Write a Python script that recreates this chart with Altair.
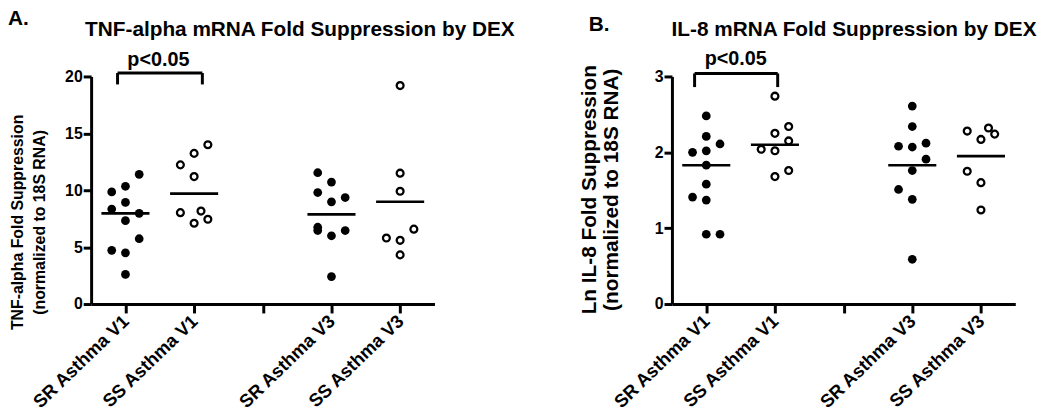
import json
import altair as alt
import pandas as pd

FONT = "Liberation Sans"

# x categories (slot 3 is an empty gap between visits)
CATS = ["SR Asthma V1", "SS Asthma V1", "", "SR Asthma V3", "SS Asthma V3"]

# ---------------- Panel A: TNF-alpha ----------------
A_SR_V1 = [11.4, 10.35, 9.85, 8.93, 8.35, 7.97, 7.33, 5.74, 4.72, 4.5, 2.6]
A_SR_V1_SLOT = [1, 0, -1, 0, -1, 1, 0, 1, -1, 0, 0]
A_SS_V1 = [14.0, 13.24, 12.23, 11.2, 8.03, 8.17, 7.45, 7.1]
A_SS_V1_SLOT = [1, 0, -1, 0, -1, 0.5, 1, 0]
A_SR_V3 = [11.54, 10.72, 9.8, 9.36, 8.98, 6.75, 6.46, 6.46, 6.0, 2.41]
A_SR_V3_SLOT = [-1, 0, -1, 1, 0, -1, -1, 1, 0, 0]
A_SS_V3 = [19.2, 11.5, 9.91, 6.58, 5.8, 5.6, 4.32]
A_SS_V3_SLOT = [0, 0, 0, 1, -1, 0, 0]
A_CENTER = [7.97, 9.7, 7.88, 8.99]

# ---------------- Panel B: IL-8 ----------------
B_SR_V1 = [2.48, 2.21, 2.11, 2.0, 2.02, 1.83, 1.58, 1.41, 1.37, 0.92, 0.92]
B_SR_V1_SLOT = [0, 0, 1, -1, 0, 0, 0, -1, 0, 0, 1]
B_SS_V1 = [2.74, 2.34, 2.25, 2.15, 2.04, 2.02, 1.76, 1.68]
B_SS_V1_SLOT = [0, 1, 0, 1, -1, 0, 1, 0]
B_SR_V3 = [2.61, 2.34, 2.08, 2.07, 2.12, 1.91, 1.76, 1.51, 1.38, 0.59]
B_SR_V3_SLOT = [0, 0, -1, 0, 1, 1, 0, -1, 0, 0]
B_SS_V3 = [2.28, 2.32, 2.24, 2.17, 1.75, 1.6, 1.24]
B_SS_V3_SLOT = [-1, 0.55, 1, 0, -1, 0, 0]
B_CENTER = [1.83, 2.1, 1.83, 1.95]

GROUP_POS = [1, 2, 4, 5]
GROUP_FILLED = [True, False, True, False]

# significance brackets: [x_left, x_right, y_top, y_bottom], label position [x, y]
A_BRACKET = [0.885, 2.12, 20.3, 19.3]
A_PLABEL = [1.48, 20.9]
B_BRACKET = [0.83, 2.04, 3.04, 2.86]
B_PLABEL = [1.43, 3.15]
P_TEXT = "p<0.05"

JIT = 0.2
HALF = 0.35


def points_df(groups, slots):
    rows = []
    for g, (vals, sl) in enumerate(zip(groups, slots)):
        for v, s in zip(vals, sl):
            rows.append({"x": GROUP_POS[g] + JIT * s, "v": v, "filled": GROUP_FILLED[g]})
    return pd.DataFrame(rows)


def center_df(centers):
    return pd.DataFrame({
        "x": [p - HALF for p in GROUP_POS],
        "x2": [p + HALF for p in GROUP_POS],
        "v": centers,
    })


def bracket_df(b):
    xl, xr, yt, yb = b
    return pd.DataFrame({
        "x": [xl, xl, xr],
        "x2": [xr, xl, xr],
        "y": [yt, yt, yt],
        "y2": [yt, yb, yb],
    })


label_expr = json.dumps(CATS) + "[datum.value - 1]"


def panel(groups, slots, centers, bracket, plabel, ydomain, yticks, ytitle,
          ytitle_size, ytitle_x, ytitle_y, title, title_x, letter, letter_y, width, height):
    pts = points_df(groups, slots)
    xs = alt.Scale(domain=[0.5, 5.5], nice=False, zero=False)
    ys = alt.Scale(domain=ydomain, nice=False, zero=False)
    xax = alt.Axis(values=[1, 2, 3, 4, 5], labelExpr=label_expr, title=None,
                   labelAngle=-44, labelFont=FONT, labelFontSize=18.5, labelFontWeight="bold",
                   labelAlign="right", labelBaseline="middle", labelPadding=5,
                   tickSize=9, tickWidth=3, domainWidth=3, grid=False, labelOverlap=False)
    yax = alt.Axis(values=yticks, format="d", title=ytitle, titleFont=FONT, titleFontSize=ytitle_size,
                   titleFontWeight="bold", titleLineHeight=22, titleX=ytitle_x, titleY=ytitle_y,
                   titleAngle=-90, titleAlign="center", titleBaseline="bottom",
                   labelFont=FONT, labelFontSize=16, labelFontWeight="bold", labelPadding=1,
                   tickSize=8, tickWidth=3, domainWidth=3, grid=False)

    base = alt.Chart(pts)
    filled = base.transform_filter("datum.filled").mark_circle(
        size=78, color="black", opacity=1
    ).encode(x=alt.X("x:Q", scale=xs, axis=xax), y=alt.Y("v:Q", scale=ys, axis=yax))
    hollow = base.transform_filter("!datum.filled").mark_point(
        shape="circle", filled=False, size=48, strokeWidth=2.3, color="black", opacity=1
    ).encode(x=alt.X("x:Q", scale=xs), y=alt.Y("v:Q", scale=ys))
    lines = alt.Chart(center_df(centers)).mark_rule(color="black", strokeWidth=2.6).encode(
        x=alt.X("x:Q", scale=xs), x2="x2:Q", y=alt.Y("v:Q", scale=ys))
    br = alt.Chart(bracket_df(bracket)).mark_rule(color="black", strokeWidth=3).encode(
        x=alt.X("x:Q", scale=xs), x2="x2:Q", y=alt.Y("y:Q", scale=ys), y2="y2:Q")
    ptxt = alt.Chart(pd.DataFrame({"x": [plabel[0]], "y": [plabel[1]], "t": [P_TEXT]})).mark_text(
        font=FONT, fontSize=20, fontWeight="bold", color="black", baseline="alphabetic"
    ).encode(x=alt.X("x:Q", scale=xs), y=alt.Y("y:Q", scale=ys), text="t:N")
    let = alt.Chart(pd.DataFrame({"t": [letter]})).mark_text(
        font=FONT, fontSize=21, fontWeight="bold", color="black", align="left", baseline="alphabetic"
    ).encode(x=alt.value(-84), y=alt.value(letter_y), text="t:N")
    ttl = alt.Chart(pd.DataFrame({"t": [title]})).mark_text(
        font=FONT, fontSize=21, fontWeight="bold", color="black", align="center", baseline="alphabetic"
    ).encode(x=alt.value(title_x), y=alt.value(-41), text="t:N")

    return alt.layer(lines, filled, hollow, br, ptxt, let, ttl).properties(
        width=width, height=height,
    )


pa = panel([A_SR_V1, A_SS_V1, A_SR_V3, A_SS_V3],
           [A_SR_V1_SLOT, A_SS_V1_SLOT, A_SR_V3_SLOT, A_SS_V3_SLOT],
           A_CENTER, A_BRACKET, A_PLABEL, [0, 20], [0, 5, 10, 15, 20],
           ["TNF-alpha Fold Suppression", "(normalized to 18S RNA)"], 16, -66, 147,
           "TNF-alpha mRNA Fold Suppression by DEX", 211, "A.", -52, 347, 230)

pb = panel([B_SR_V1, B_SS_V1, B_SR_V3, B_SS_V3],
           [B_SR_V1_SLOT, B_SS_V1_SLOT, B_SR_V3_SLOT, B_SS_V3_SLOT],
           B_CENTER, B_BRACKET, B_PLABEL, [0, 3], [0, 1, 2, 3],
           ["Ln IL-8 Fold Suppression", "(normalized to 18S RNA)"], 21, -73, 114,
           "IL-8 mRNA Fold Suppression by DEX", 184, "B.", -46, 347, 230)

chart = alt.hconcat(pa, pb, spacing=240, bounds="flush").properties(
    padding={"left": 0, "top": -2, "right": 5, "bottom": 5}
).configure_view(stroke=None).configure_axis(
    domainColor="black", tickColor="black", labelColor="black", titleColor="black"
)

chart.save("out.html", embed_options={"renderer": "svg", "actions": False})
